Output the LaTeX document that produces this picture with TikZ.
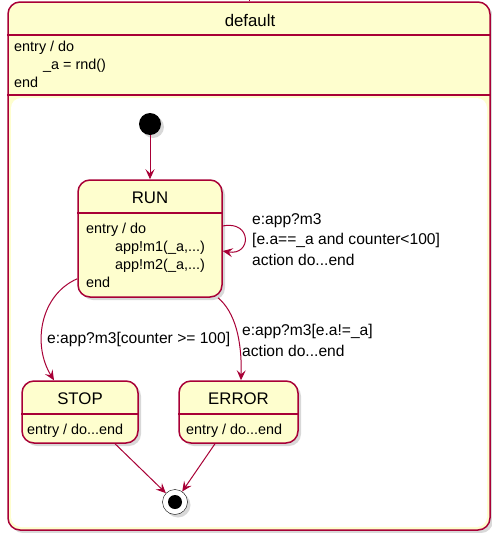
\documentclass[tikz,border=0pt]{standalone}
\usepackage{fontspec}
\setmainfont{Liberation Sans}
\usetikzlibrary{arrows.meta,shadows}
\definecolor{umlfill}{HTML}{FEFECE}
\definecolor{umlline}{HTML}{A80036}
\tikzset{
  umlshadow/.style={drop shadow={opacity=.3,shadow xshift=3pt,shadow yshift=-3pt}},
  state/.style={draw=umlline,fill=umlfill,line width=1.5pt,rounded corners=12pt,inner sep=0pt,umlshadow},
  sep/.style={draw=umlline,line width=1.5pt},
  title/.style={font=\fontsize{16.8}{20}\selectfont,inner sep=0pt,anchor=base},
  attr/.style={font=\fontsize{14.4}{18}\selectfont,inner sep=0pt,anchor=base west,align=left},
  lbl/.style={font=\fontsize{15.6}{20.5}\selectfont,inner sep=0pt,anchor=base west,align=left},
  trans/.style={draw=umlline,line width=1pt,-{Stealth[length=10pt,width=9pt,inset=4pt]}},
}
\begin{document}
\begin{tikzpicture}[x=1pt,y=-1pt]
    \useasboundingbox (0,0) rectangle (492,533);
    % composite state
    \node[state,minimum width=482pt,minimum height=528pt] (default) at (249,266) {};
    \draw[umlline,line width=1pt] (default.north) -- ++(0,-3); % incoming edge
    \path[sep] (default.west|-0,35) -- (default.east|-0,35)
               (default.west|-0,95) -- (default.east|-0,95);
    \fill[white,rounded corners=10pt] (11,98) rectangle (487,527); % region
    \node[title] (default title) at (250,26) {default};
    % multi-line texts sit on the baseline of their last line
    \node[attr] (default body) at (14,87) {entry / do\\\hspace*{29pt}\_a = rnd()\\end};
    % substates
    \node[circle,fill=black,minimum size=22pt,inner sep=0pt,umlshadow] (init) at (150,124) {};
    \node[state,minimum width=144pt,minimum height=117pt] (run) at (150,238.5) {};
    \node[state,minimum width=116pt,minimum height=62pt] (stop) at (80,412) {};
    \node[state,minimum width=119pt,minimum height=62pt] (error) at (238.5,412) {};
    \node[circle,draw=black,fill=white,minimum size=25pt,inner sep=0pt,umlshadow] (final) at (175,502) {};
    \node[circle,fill=black,minimum size=14pt,inner sep=0pt] (final dot) at (final) {};
    \path[sep] (run.west|-0,213) -- (run.east|-0,213)
               (stop.west|-0,414) -- (stop.east|-0,414)
               (error.west|-0,414) -- (error.east|-0,414);
    \node[title] (run title) at (150,203) {RUN};
    \node[attr] (run body) at (86,287) {entry / do\\\hspace*{29pt}app!m1(\_a,...)\\\hspace*{29pt}app!m2(\_a,...)\\end};
    \node[title] (stop title) at (80,404) {STOP};
    \node[attr] (stop body) at (27,434) {entry / do...end};
    \node[title] (error title) at (238.5,404) {ERROR};
    \node[attr] (error body) at (186,434) {entry / do...end};
    % transitions
    \draw[trans] (init) -- (run);
    \draw[trans] ([yshift=12.5pt]run.east) .. controls (252,220) and (252,256) .. ([yshift=-12.5pt]run.east);
    \draw[trans] ([yshift=19pt]run.south west) .. controls (40,295) and (32,345) .. ([xshift=-26pt]stop.north);
    \draw[trans] ([xshift=68pt]run.south) .. controls (235,312) and (242,340) .. ([xshift=2.5pt]error.north);
    \draw[trans] ([xshift=35pt]stop.south) -- (final);
    \draw[trans] ([xshift=-23.5pt]error.south) -- (final);
    \node[lbl] (loop label) at (252,265) {e:app?m3\\{}[e.a==\_a and counter<100]\\action do...end};
    \node[lbl] (stop label) at (47,343) {e:app?m3[counter >= 100]};
    \node[lbl] (error label) at (242,356) {e:app?m3[e.a!=\_a]\\action do...end};
\end{tikzpicture}
\end{document}
